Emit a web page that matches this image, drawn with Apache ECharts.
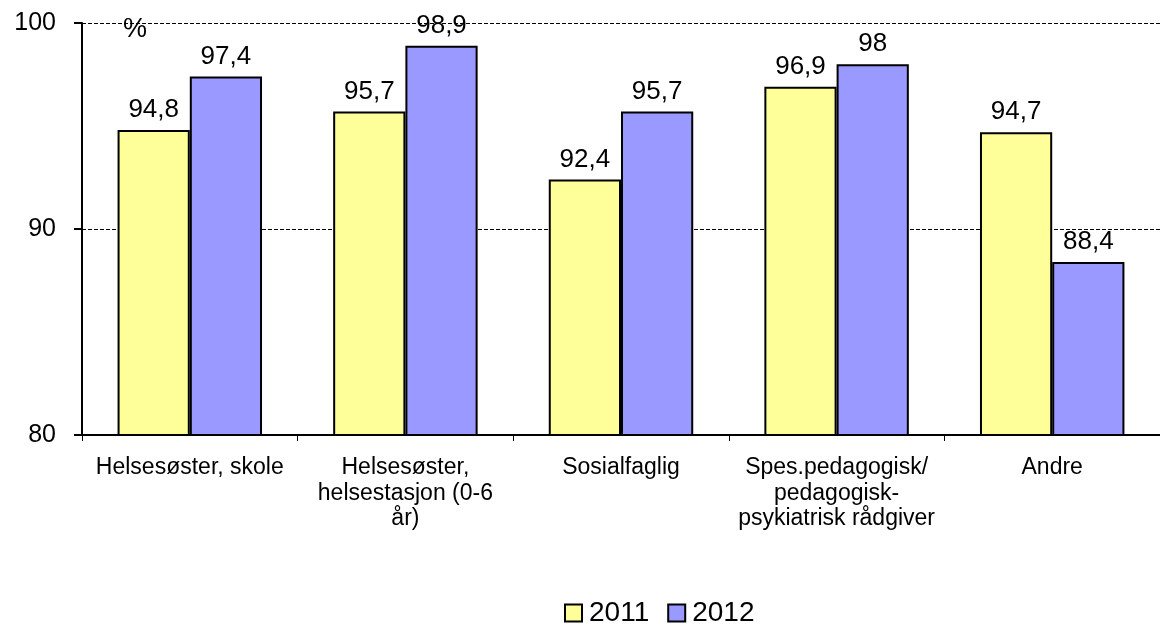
<!DOCTYPE html>
<html><head><meta charset="utf-8">
<script src="https://cdn.jsdelivr.net/npm/echarts@6/dist/echarts.min.js"></script>
<style>html,body{margin:0;padding:0;background:#fff}#c{width:1160px;height:624px}</style>
</head><body><div id="c"></div>
<script>
const categories = ["Helsesøster, skole", "Helsesøster,\nhelsestasjon (0-6\når)", "Sosialfaglig", "Spes.pedagogisk/\npedagogisk-\npsykiatrisk rådgiver", "Andre"];
const series2011 = [94.8, 95.7, 92.4, 96.9, 94.7];
const series2012 = [97.4, 98.9, 95.7, 98, 88.4];
const yTicks = [80, 90, 100];
const font = "Liberation Sans, Arial, sans-serif";
const fmt = p => String(p.value).replace('.', ',');
const chart = echarts.init(document.getElementById('c'));
chart.setOption({
  animation: false,
  textStyle: {fontFamily: font},
  grid: {left: 82, right: 0, top: 23, bottom: 189, containLabel: false},
  legend: {
    top: 594, left: 559, itemWidth: 17, itemHeight: 17, itemGap: 18,
    icon: 'rect',
    textStyle: {fontSize: 28, color: '#000', fontFamily: font, padding: [0,0,0,2]},
    data: ['2011', '2012']
  },
  xAxis: {
    type: 'category', data: categories,
    axisLine: {lineStyle: {color: '#000', width: 2}},
    axisTick: {show: true, alignWithLabel: false, length: 6, lineStyle: {color: '#000', width: 1}},
    axisLabel: {fontSize: 23, color: '#000', lineHeight: 25.5, margin: 20, interval: 0, fontFamily: font}
  },
  yAxis: {
    type: 'value', min: 80, max: 100, interval: 10,
    axisLine: {show: true, lineStyle: {color: '#000', width: 2}},
    axisTick: {show: true, length: 8, inside: false, lineStyle: {color: '#000', width: 2}},
    axisLabel: {fontSize: 25, color: '#000', margin: 26, fontFamily: font, formatter: v => yTicks.includes(v) ? String(v) : ''},
    splitLine: {show: true, lineStyle: {color: '#000', type: [4, 2], width: 1}}
  },
  series: [
    {name: '2011', type: 'bar', data: series2011, barGap: '0%', barCategoryGap: '33%',
     itemStyle: {color: '#FFFF99', borderColor: '#000', borderWidth: 2},
     label: {show: true, position: 'top', distance: 7, fontSize: 26, color: '#000', fontFamily: font, formatter: fmt}},
    {name: '2012', type: 'bar', data: series2012, barGap: '0%', barCategoryGap: '33%',
     itemStyle: {color: '#9999FF', borderColor: '#000', borderWidth: 2},
     label: {show: true, position: 'top', distance: 7, fontSize: 26, color: '#000', fontFamily: font, formatter: fmt}}
  ],
  graphic: [{type: 'text', left: 123, top: 16, style: {text: '%', fontSize: 27, fill: '#000', fontFamily: font}}]
});
</script></body></html>
